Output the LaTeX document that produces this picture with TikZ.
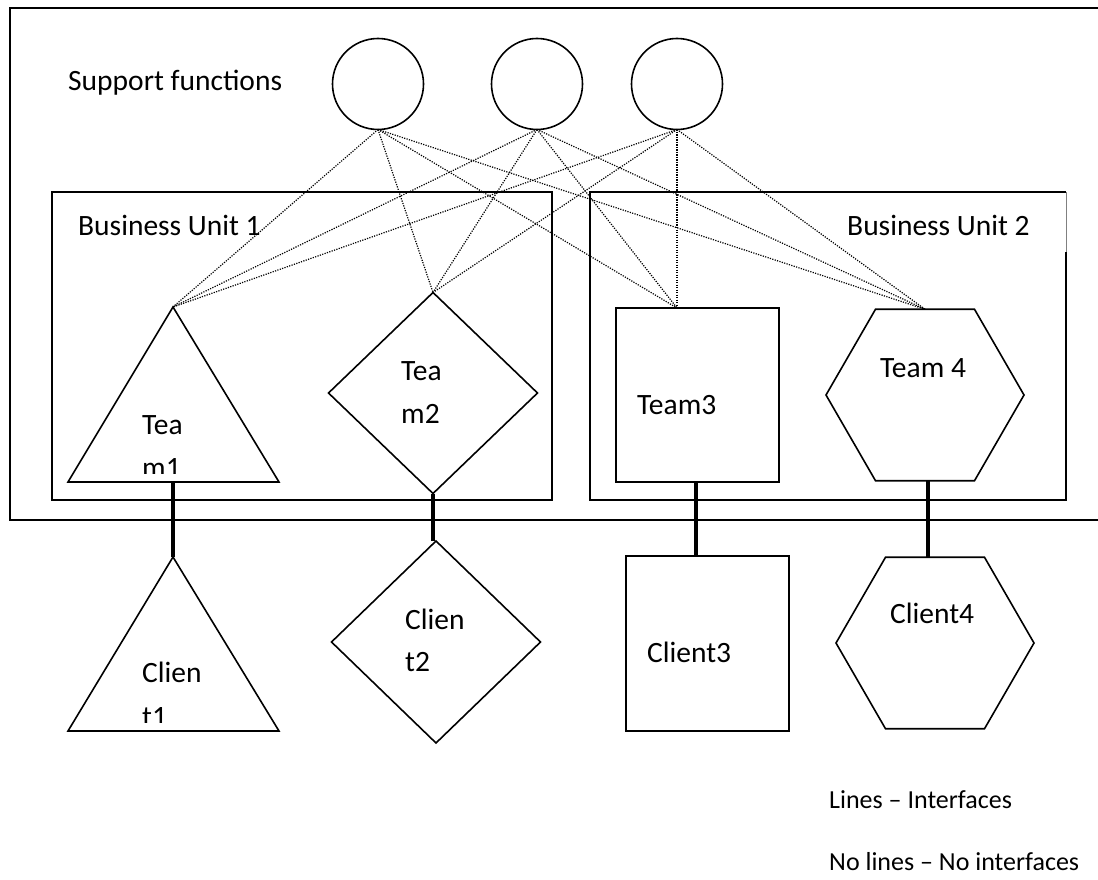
\documentclass[tikz,border=0pt]{standalone}
\usepackage{fontspec}
\setmainfont{Carlito}
\usetikzlibrary{shapes.geometric}

\begin{document}
\begin{tikzpicture}[x=1pt,y=-1pt,
  frame/.style={black, line width=1.6pt},
  shp/.style={draw=black, line width=1.6pt, inner sep=0pt, outer sep=0pt},
  link/.style={black, line width=1.2pt, dash pattern=on 1.2pt off 1.3pt},
  iface/.style={black, line width=3.5pt},
  lbl/.style={anchor=base west, inner sep=0pt, font=\fontsize{29.5}{36}\selectfont},
  note/.style={anchor=base west, inner sep=0pt, font=\fontsize{26}{32}\selectfont}]

\useasboundingbox (0,0) rectangle (1098,880);

% outer frame
\draw[frame] (1098,8) -- (10,8) -- (10,520) -- (1098,520);

% support functions
\node[lbl] (sf) at (68,91) {Support functions};
\node[shp, circle, minimum size=91pt] (s1) at (378,84) {};
\node[shp, circle, minimum size=91pt] (s2) at (537,84) {};
\node[shp, circle, minimum size=91pt] (s3) at (677,84) {};

% business units
\draw[frame] (52,192) rectangle (552,500);
\draw[frame] (1066,252) -- (1066,500) -- (590,500) -- (590,192) -- (1066,192);
\draw[gray, very thin] (1066,192) -- (1066,252);
\node[lbl] (bu1) at (78,235) {Business Unit 1};
\node[lbl] (bu2) at (847,235) {Business Unit 2};

% teams
\coordinate (t1) at (173,307);
\coordinate (t1s) at (173,482);
\draw[shp] (t1) -- (279,482) -- (68,482) -- cycle;
\node[shp, diamond, minimum width=209pt, minimum height=201pt] (t2) at (433,393) {};
\node[shp, rectangle, minimum width=163pt, minimum height=174pt] (t3) at (697.5,395) {};
\node[shp, regular polygon, regular polygon sides=6, minimum size=198pt] (t4) at (925,395) {};
\coordinate (t3n) at (677,308);

\node[lbl] (t1a) at (142,434) {Tea};
\begin{scope}
\clip (130,440) rectangle (220,473);
\node[lbl] (t1b) at (142,477) {m1};
\end{scope}
\node[lbl] (t2a) at (401,380) {Tea};
\node[lbl] (t2b) at (401,423) {m2};
\node[lbl] (t3a) at (637,414) {Team3};
\node[lbl] (t4a) at (880,377) {Team 4};

% clients
\coordinate (c1) at (173,557);
\draw[shp] (c1) -- (279,731) -- (68,731) -- cycle;
\node[shp, diamond, minimum width=209pt, minimum height=202pt] (c2) at (436,642) {};
\node[shp, rectangle, minimum width=163pt, minimum height=175pt] (c3) at (707.5,643.5) {};
\node[shp, regular polygon, regular polygon sides=6, minimum size=198pt] (c4) at (935,643) {};

\node[lbl] (c1a) at (142,682) {Clien};
\begin{scope}
\clip (130,690) rectangle (220,722);
\node[lbl] (c1b) at (142,726) {t1};
\end{scope}
\node[lbl] (c2a) at (405,629) {Clien};
\node[lbl] (c2b) at (405,671) {t2};
\node[lbl] (c3a) at (647,662) {Client3};
\node[lbl] (c4a) at (890,623) {Client4};

% dotted links support -> teams
\foreach \s in {s1,s2,s3}
  \foreach \t in {t1,t2.north,t3n,t4.north}
    \draw[link] (\s.south) -- (\t);

% interfaces
\draw[iface] (t1s) -- (c1);
\draw[iface] (t2.south) -- (t2.south |- c2.north);
\draw[iface] ([xshift=-1.5pt]t3.south) -- ([xshift=-1.5pt]t3.south |- c3.north);
\draw[iface] ([xshift=3pt]t4.south) -- ([xshift=3pt]t4.south |- c4.north);

% legend
\node[note] (lg1) at (829,808) {Lines – Interfaces};
\node[note] (lg2) at (829,870) {No lines – No interfaces};

\end{tikzpicture}
\end{document}
